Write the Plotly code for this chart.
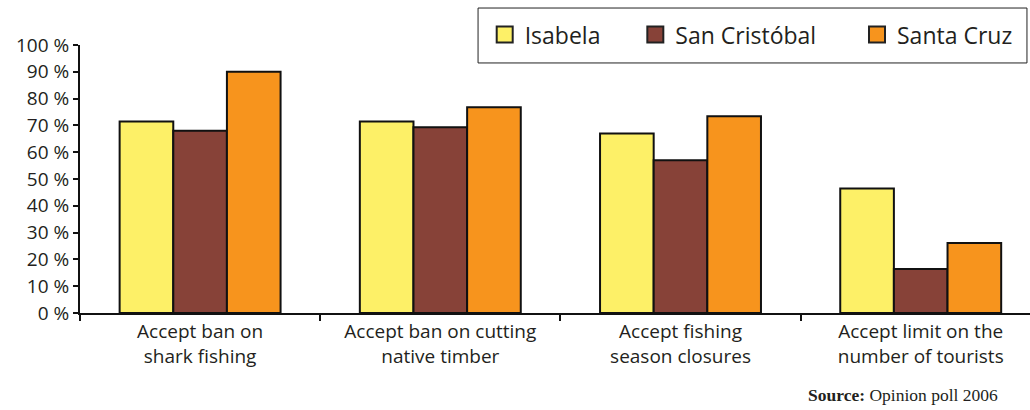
import plotly.graph_objects as go

categories = ["Accept ban on<br>shark fishing", "Accept ban on cutting<br>native timber",
              "Accept fishing<br>season closures", "Accept limit on the<br>number of tourists"]
series_names = ["Isabela", "San Cristóbal", "Santa Cruz"]
isabela = [71.5, 71.5, 67, 46.5]
san_cristobal = [68, 69.3, 57, 16.4]
santa_cruz = [90, 76.8, 73.4, 26.1]
colors = ["#FDF067", "#874238", "#F7941D"]
y_ticks = [0, 10, 20, 30, 40, 50, 60, 70, 80, 90, 100]
y_tick_labels = [f"{v} %" for v in y_ticks]

fig = go.Figure()
for name, vals, col in zip(series_names, [isabela, san_cristobal, santa_cruz], colors):
    fig.add_trace(go.Bar(x=categories, y=vals, name=name, showlegend=False,
                         marker=dict(color=col, line=dict(color="#111111", width=2))))
pads = ["\u00a0" * 5, "\u00a0" * 6, ""]
for name, col, pad in zip(series_names, colors, pads):
    fig.add_trace(go.Scatter(x=[None], y=[None], mode="markers", name=name + pad,
                             marker=dict(symbol="square", size=16, color=col,
                                         line=dict(color="#222222", width=2))))

font_family = "Open Sans, Noto Sans, sans-serif"
fig.update_layout(
    width=1030, height=410,
    margin=dict(l=80, r=0, t=45, b=97),
    paper_bgcolor="white", plot_bgcolor="white",
    barmode="group", bargap=0.33, bargroupgap=0,
    font=dict(family=font_family, color="#231F20"),
    legend=dict(orientation="h", x=0.426, xanchor="left", y=1.119, yanchor="top",
                borderwidth=0, bgcolor="rgba(0,0,0,0)",
                font=dict(size=23, color="#231F20"), itemwidth=30),
    shapes=[dict(type="rect", xref="paper", yref="paper", x0=0.419, x1=0.9968,
                 y0=0.933, y1=1.138, line=dict(color="#222222", width=1),
                 fillcolor="rgba(0,0,0,0)", layer="below")],
    xaxis=dict(range=[-0.5, 3.455], showline=True, linecolor="#111111", linewidth=2,
               ticks="outside", tickson="boundaries", ticklen=6, tickwidth=2,
               tickcolor="#111111", showgrid=False, zeroline=False,
               tickfont=dict(size=19)),
    yaxis=dict(range=[0, 100], tickvals=y_ticks, ticktext=y_tick_labels,
               showline=True, linecolor="#111111", linewidth=2,
               ticks="outside", ticklen=5, tickwidth=2, tickcolor="#111111",
               showgrid=False, zeroline=False, tickfont=dict(size=19)),
    annotations=[dict(text="<b>Source:</b> Opinion poll 2006", xref="paper", yref="paper",
                      x=0.968, y=-0.306, xanchor="right", yanchor="middle", showarrow=False,
                      font=dict(family="Liberation Serif, serif", size=17.5, color="#231F20"))],
)
fig.write_html("out.html")
